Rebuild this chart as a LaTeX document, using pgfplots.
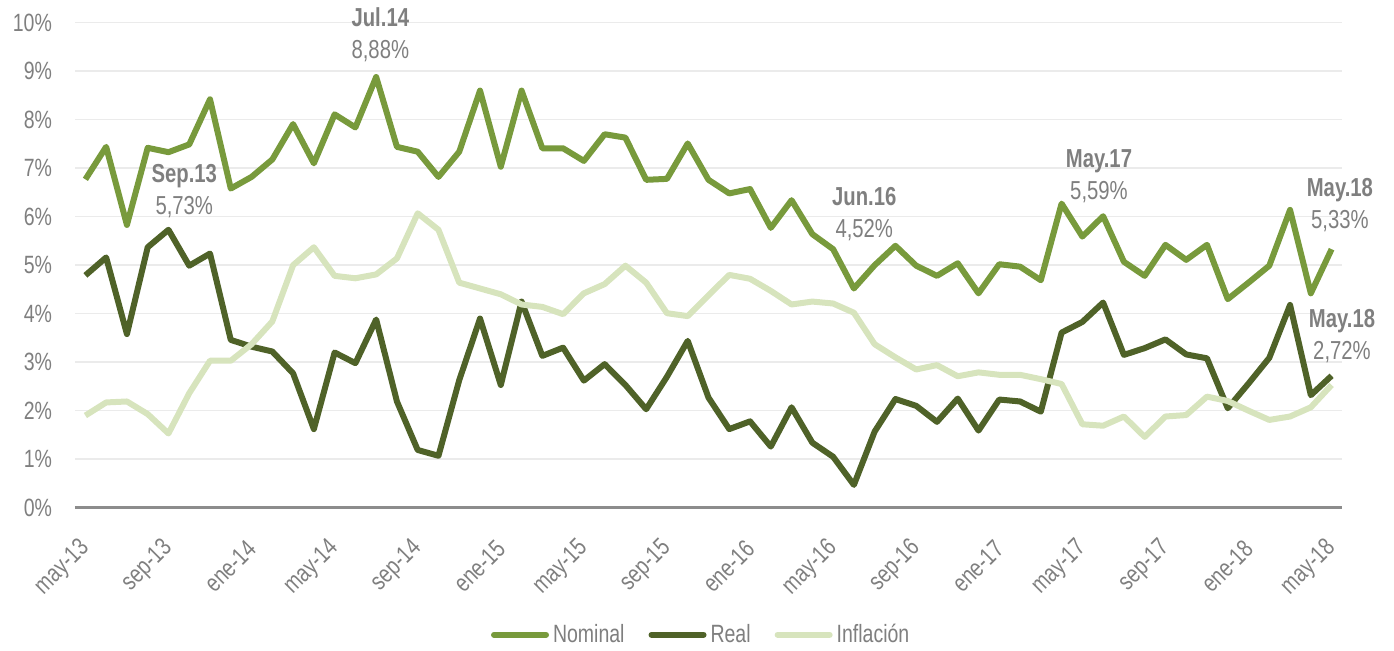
\documentclass[border=0pt]{standalone}
\usepackage{fontspec}
\setmainfont{Liberation Sans}[FakeStretch=0.78]
\usepackage{pgfplots}
\usepackage{pgfplotstable}
\pgfplotsset{compat=1.18}

\definecolor{nom}{HTML}{789A3C}
\definecolor{real}{HTML}{4F6228}
\definecolor{infl}{HTML}{D7E4BD}
\definecolor{txt}{HTML}{7F7F7F}
\definecolor{grd}{HTML}{EBEBEB}
\definecolor{axl}{HTML}{8C8C8C}

\tikzset{lbl/.style={align=center, text=txt, font=\fontsize{13}{16}\selectfont}}

% i = meses desde may-13
\pgfplotstableread{
i nom real infl
0 6.77 4.79 1.90
1 7.44 5.16 2.17
2 5.83 3.58 2.19
3 7.42 5.37 1.93
4 7.33 5.73 1.53
5 7.49 4.99 2.36
6 8.42 5.24 3.03
7 6.58 3.46 3.03
8 6.82 3.32 3.37
9 7.18 3.22 3.84
10 7.91 2.77 5.00
11 7.10 1.62 5.37
12 8.11 3.20 4.78
13 7.84 2.98 4.73
14 8.88 3.88 4.81
15 7.44 2.19 5.14
16 7.34 1.19 6.07
17 6.82 1.07 5.73
18 7.34 2.63 4.64
19 8.60 3.90 4.52
20 7.03 2.53 4.40
21 8.60 4.25 4.19
22 7.41 3.13 4.14
23 7.41 3.30 3.99
24 7.15 2.62 4.42
25 7.70 2.96 4.61
26 7.63 2.53 4.99
27 6.76 2.03 4.64
28 6.78 2.70 4.01
29 7.51 3.44 3.95
30 6.76 2.27 4.38
31 6.48 1.62 4.80
32 6.57 1.78 4.72
33 5.77 1.26 4.47
34 6.34 2.07 4.19
35 5.64 1.34 4.25
36 5.33 1.05 4.21
37 4.52 0.47 4.02
38 5.00 1.57 3.37
39 5.40 2.24 3.10
40 4.99 2.10 2.85
41 4.78 1.77 2.94
42 5.04 2.25 2.71
43 4.42 1.59 2.79
44 5.02 2.23 2.74
45 4.97 2.19 2.74
46 4.69 1.98 2.65
47 6.27 3.61 2.55
48 5.59 3.83 1.72
49 6.01 4.23 1.69
50 5.07 3.15 1.88
51 4.78 3.29 1.46
52 5.42 3.47 1.88
53 5.11 3.16 1.91
54 5.42 3.08 2.29
55 4.30 2.05 2.20
56 4.64 2.56 2.00
57 4.99 3.09 1.81
58 6.14 4.18 1.88
59 4.42 2.32 2.07
60 5.33 2.72 2.53
}\datos

\begin{document}
\begin{tikzpicture}
\useasboundingbox (-37.5pt,-71.65pt) rectangle (659.5pt,253.85pt);
\begin{axis}[
    scale only axis,
    width=633.5pt, height=242.5pt,
    xmin=-0.5, xmax=60.5, ymin=0, ymax=10,
    axis x line*=bottom,
    axis y line*=left,
    y axis line style={draw=none},
    x axis line style={draw=axl, line width=1.3pt},
    ytick={0,...,10},
    yticklabels={0\%,1\%,2\%,3\%,4\%,5\%,6\%,7\%,8\%,9\%,10\%},
    xtick={0,4,...,60},
    xticklabels={may-13,sep-13,ene-14,may-14,sep-14,ene-15,may-15,sep-15,ene-16,may-16,sep-16,ene-17,may-17,sep-17,ene-18,may-18},
    ymajorgrids,
    grid style={draw=grd, line width=0.8pt},
    major tick length=0pt,
    tick label style={font=\fontsize{12.5}{15}\selectfont, text=txt},
    yticklabel style={anchor=east, xshift=-8pt},
    xticklabel style={yshift=-16pt, xshift=2.5pt, rotate=45, anchor=east},
    clip=false,
    legend style={at={(0.495,-0.262)}, anchor=center, draw=none,
        font=\fontsize{12.5}{15}\selectfont, text=txt,
        legend columns=3,
        /tikz/every even column/.append style={column sep=10pt}},
    legend image code/.code={\draw[#1, line width=3pt, line cap=round] (0pt,0pt) -- (26pt,0pt);},
    every axis plot/.append style={line width=3pt, line join=round, mark=none},
]
\addplot[nom] table[x=i, y=nom] {\datos};
\addlegendentry{Nominal}
\addplot[real] table[x=i, y=real] {\datos};
\addlegendentry{Real}
\addplot[infl] table[x=i, y=infl] {\datos};
\addlegendentry{Inflación}

\node[lbl] at (axis cs:14.2,9.75) {\textbf{Jul.14}\\8,88\%};
\node[lbl] at (axis cs:4.76,6.52) {\textbf{Sep.13}\\5,73\%};
\node[lbl] at (axis cs:37.5,6.06) {\textbf{Jun.16}\\4,52\%};
\node[lbl] at (axis cs:48.8,6.84) {\textbf{May.17}\\5,59\%};
\node[lbl] at (axis cs:60.4,6.24) {\textbf{May.18}\\5,33\%};
\node[lbl] at (axis cs:60.5,3.54) {\textbf{May.18}\\2,72\%};
\end{axis}
\end{tikzpicture}
\end{document}
